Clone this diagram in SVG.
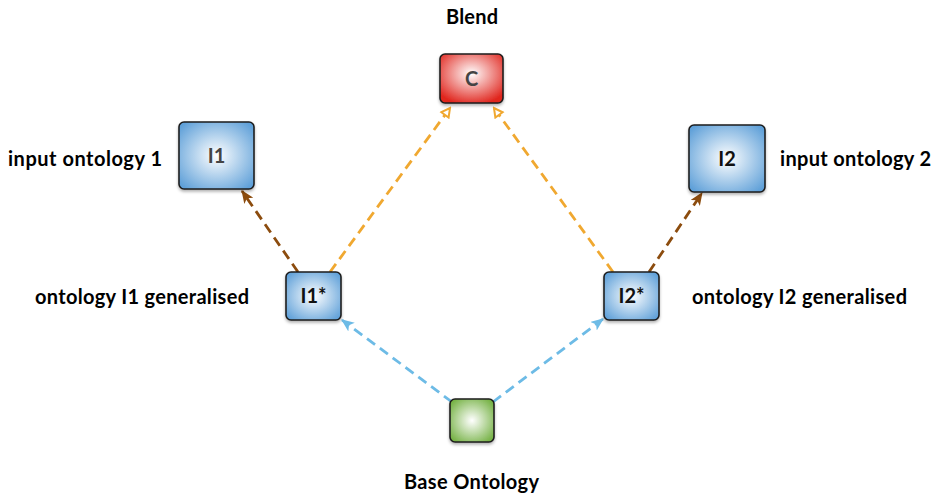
<svg xmlns="http://www.w3.org/2000/svg" width="938" height="495" viewBox="0 0 938 495">
<style>
.lbl{font-family:"Lato","Liberation Sans",sans-serif;font-weight:bold;font-size:20px;fill:#000}
.nl{font-family:"Lato","Liberation Sans",sans-serif;font-weight:bold;font-size:20px;text-anchor:middle}
.box{stroke:#1e1e1e;stroke-width:1.6}
.edge{fill:none;stroke-width:2.8;stroke-dasharray:10 6}
</style>
<defs>
<radialGradient id="gb" cx="0.5" cy="0.5" r="0.65">
<stop offset="0" stop-color="#ffffff"/><stop offset="1" stop-color="#5d9fd8"/>
</radialGradient>
<radialGradient id="gr" cx="0.5" cy="0.4" r="0.65">
<stop offset="0" stop-color="#ffffff"/><stop offset="1" stop-color="#e0261e"/>
</radialGradient>
<radialGradient id="gg" cx="0.5" cy="0.5" r="0.65">
<stop offset="0" stop-color="#ffffff"/><stop offset="1" stop-color="#6fae3c"/>
</radialGradient>
<filter id="sh" x="-20%" y="-20%" width="140%" height="150%">
<feDropShadow dx="0" dy="2" stdDeviation="1.5" flood-color="#000" flood-opacity="0.3"/>
</filter>
<marker id="ab" viewBox="0 0 12 10" refX="11" refY="5" markerWidth="13" markerHeight="11" markerUnits="userSpaceOnUse" orient="auto">
<path d="M0,0 L12,5 L0,10 L3,5 Z" fill="#8c4c0e"/>
</marker>
<marker id="al" viewBox="0 0 12 10" refX="11" refY="5" markerWidth="13" markerHeight="11" markerUnits="userSpaceOnUse" orient="auto">
<path d="M0,0 L12,5 L0,10 L3,5 Z" fill="#6dbbe6"/>
</marker>
<marker id="ao" viewBox="0 0 12 12" refX="10" refY="6" markerWidth="12" markerHeight="12" markerUnits="userSpaceOnUse" orient="auto">
<path d="M1.5,1.5 L10,6 L1.5,10.5 Z" fill="#fff" stroke="#f0a830" stroke-width="2"/>
</marker>
</defs>
<g id="connectors">
<line class="edge" x1="298" y1="272" x2="242" y2="191" stroke="#8c4c0e" marker-end="url(#ab)"/>
<line class="edge" x1="649" y1="272" x2="702" y2="193" stroke="#8c4c0e" marker-end="url(#ab)"/>
<line class="edge" x1="330" y1="272" x2="450" y2="108" stroke="#f0a830" marker-end="url(#ao)"/>
<line class="edge" x1="613" y1="272" x2="494" y2="108" stroke="#f0a830" marker-end="url(#ao)"/>
<line class="edge" x1="452" y1="402" x2="342" y2="320" stroke="#6dbbe6" marker-end="url(#al)"/>
<line class="edge" x1="493" y1="402" x2="603" y2="319" stroke="#6dbbe6" marker-end="url(#al)"/>
</g>
<g id="node-C">
<rect class="box" x="440" y="54" width="63" height="49" rx="5" fill="url(#gr)" filter="url(#sh)"/>
<text class="nl" x="471.5" y="86" fill="#444">C</text>
</g>
<g id="node-I1">
<rect class="box" x="179" y="122" width="75" height="67" rx="5" fill="url(#gb)" filter="url(#sh)"/>
<text class="nl" x="216.5" y="163" fill="#444">I1</text>
</g>
<g id="node-I2">
<rect class="box" x="689" y="125" width="76" height="67" rx="5" fill="url(#gb)" filter="url(#sh)"/>
<text class="nl" x="727" y="166" fill="#111">I2</text>
</g>
<g id="node-I1s">
<rect class="box" x="286" y="272" width="55" height="48" rx="5" fill="url(#gb)" filter="url(#sh)"/>
<text class="nl" x="313.5" y="303" fill="#111">I1*</text>
</g>
<g id="node-I2s">
<rect class="box" x="604" y="272" width="55" height="48" rx="5" fill="url(#gb)" filter="url(#sh)"/>
<text class="nl" x="631.5" y="303" fill="#111">I2*</text>
</g>
<g id="node-Base">
<rect class="box" x="450" y="399" width="44" height="43" rx="5" fill="url(#gg)" filter="url(#sh)"/>
</g>
<g id="labels">
<text class="lbl" x="446" y="24" textLength="52">Blend</text>
<text class="lbl" x="8" y="166" textLength="154">input ontology 1</text>
<text class="lbl" x="780" y="166" textLength="151">input ontology 2</text>
<text class="lbl" x="35" y="304" textLength="214">ontology I1 generalised</text>
<text class="lbl" x="692" y="304" textLength="215">ontology I2 generalised</text>
<text class="lbl" x="404" y="489" textLength="135">Base Ontology</text>
</g>
</svg>
